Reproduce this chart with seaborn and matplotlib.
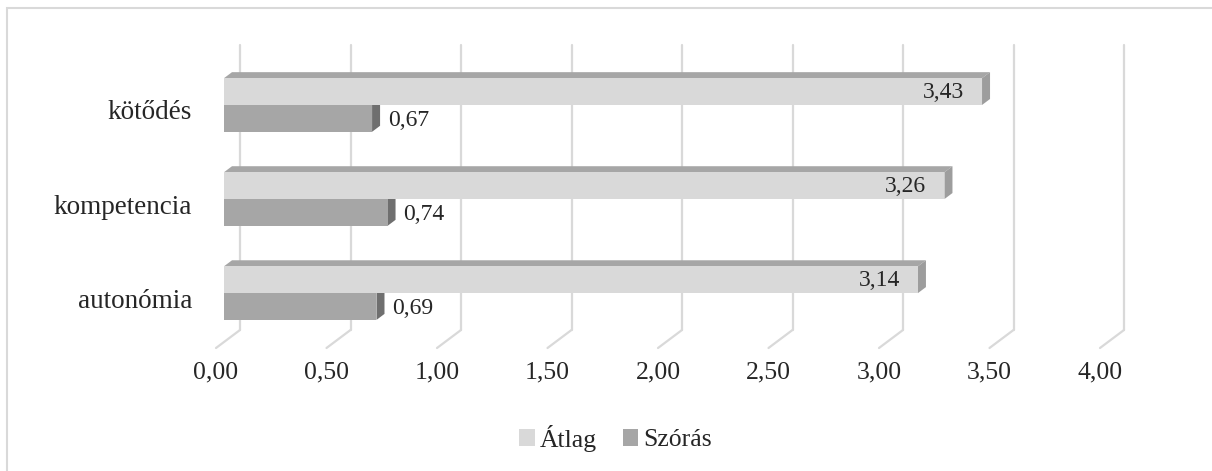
import pandas as pd
import seaborn as sns
import matplotlib.pyplot as plt
from matplotlib import transforms
from matplotlib.patches import Polygon, Patch, Rectangle

# adatok
kategoriak = ['kötődés', 'kompetencia', 'autonómia']
sorozatok = ['Átlag', 'Szórás']
atlag = [3.43, 3.26, 3.14]
szoras = [0.67, 0.74, 0.69]
x_tickek = [0, 0.5, 1, 1.5, 2, 2.5, 3, 3.5, 4]
x_feliratok = ['0,00', '0,50', '1,00', '1,50', '2,00', '2,50', '3,00', '3,50', '4,00']

szinek = ['#d9d9d9', '#a6a6a6']
teto_szinek = ['#a6a6a6', '#a6a6a6']
oldal_szinek = ['#9d9d9d', '#6f6f6f']

df = pd.DataFrame({
    'kategoria': kategoriak * 2,
    'ertek': atlag + szoras,
    'sorozat': [sorozatok[0]] * 3 + [sorozatok[1]] * 3,
})

sns.set_style('white')
plt.rcParams['font.family'] = ['Liberation Serif', 'DejaVu Serif']

W, H = 1212, 471
fig = plt.figure(figsize=(W / 100, H / 100), dpi=100)
ax = fig.add_axes([224 / W, 1 - 342 / H, 884 / W, 285 / H])

sns.barplot(data=df, y='kategoria', x='ertek', hue='sorozat', orient='h',
            palette=szinek, saturation=1, width=0.57, linewidth=0,
            legend=False, ax=ax, zorder=3)

ax.set_xlim(0, 4)
ax.set_ylim(2.52, -0.51)
ax.set_xlabel('')
ax.set_ylabel('')
for s in ax.spines.values():
    s.set_visible(False)

# tengelyfeliratok
ax.set_xticks(x_tickek, x_feliratok)
ax.tick_params(axis='x', length=0, pad=14, labelsize=18.5)
ax.tick_params(axis='y', length=0, pad=23, labelsize=19.5)
for t in ax.get_xticklabels():
    t.set_transform(t.get_transform() + transforms.ScaledTranslation(-8 / 100, 0, fig.dpi_scale_trans))
for t in ax.get_yticklabels():
    t.set_transform(t.get_transform() + transforms.ScaledTranslation(0, -5 / 100, fig.dpi_scale_trans))

# hátsó fal rácsvonalai + padló
hatso = transforms.offset_copy(ax.transData, fig=fig, x=16, y=12, units='dots')
elso = transforms.offset_copy(ax.transData, fig=fig, x=-8, y=-6, units='dots')
inv = ax.transData.inverted()
y_also, y_felso = ax.get_ylim()
for t in x_tickek:
    ax.plot([t, t], [y_also, y_felso], color='#d9d9d9', lw=1.6,
            transform=hatso, clip_on=False, zorder=0)
    p1 = inv.transform(hatso.transform((t, y_also)))
    p2 = inv.transform(elso.transform((t, y_also)))
    ax.plot([p1[0], p2[0]], [p1[1], p2[1]], color='#d9d9d9', lw=1.6,
            clip_on=False, zorder=0)

# 3D hatás: tető és oldallap
dx, dy = 8, 6
azonos = transforms.IdentityTransform()
for i, cont in enumerate(ax.containers):
    for p in cont.patches:
        bb = p.get_window_extent()
        x0, x1, y0, y1 = bb.x0, bb.x1, bb.y0, bb.y1
        if i == 0:
            ax.add_patch(Polygon([(x0, y1), (x1, y1), (x1 + dx, y1 + dy), (x0 + dx, y1 + dy)],
                                 closed=True, facecolor=teto_szinek[i], lw=0,
                                 transform=azonos, clip_on=False, zorder=2))
        ax.add_patch(Polygon([(x1, y0), (x1, y1), (x1 + dx, y1 + dy), (x1 + dx, y0 + dy)],
                             closed=True, facecolor=oldal_szinek[i], lw=0,
                             transform=azonos, clip_on=False, zorder=2))

# adatcímkék
for i, cont in enumerate(ax.containers):
    for p in cont.patches:
        v = p.get_width()
        yc = p.get_y() + p.get_height() / 2
        szoveg = f'{v:.2f}'.replace('.', ',')
        if i == 0:
            ax.annotate(szoveg, xy=(v, yc), xytext=(-18, -1), textcoords='offset pixels',
                        ha='right', va='center', fontsize=17, zorder=5)
        else:
            ax.annotate(szoveg, xy=(v, yc), xytext=(16, -2), textcoords='offset pixels',
                        ha='left', va='center', fontsize=17, zorder=5)

# jelmagyarázat
kezelok = [Patch(facecolor=szinek[0], edgecolor='none', label=sorozatok[0]),
           Patch(facecolor=szinek[1], edgecolor='none', label=sorozatok[1])]
fig.legend(handles=kezelok, loc='center', bbox_to_anchor=(0.508, 1 - 438 / H), ncol=2,
           frameon=False, fontsize=18.5, handlelength=0.6, handleheight=0.6,
           handletextpad=0.2, columnspacing=1.0)

# diagramterület kerete
fig.patches.append(Rectangle((7 / W, -0.1), 1.2, 1 - 8 / H + 0.1, transform=fig.transFigure,
                             fill=False, edgecolor='#d9d9d9', lw=1.5))

plt.savefig('out.png', dpi=100)
